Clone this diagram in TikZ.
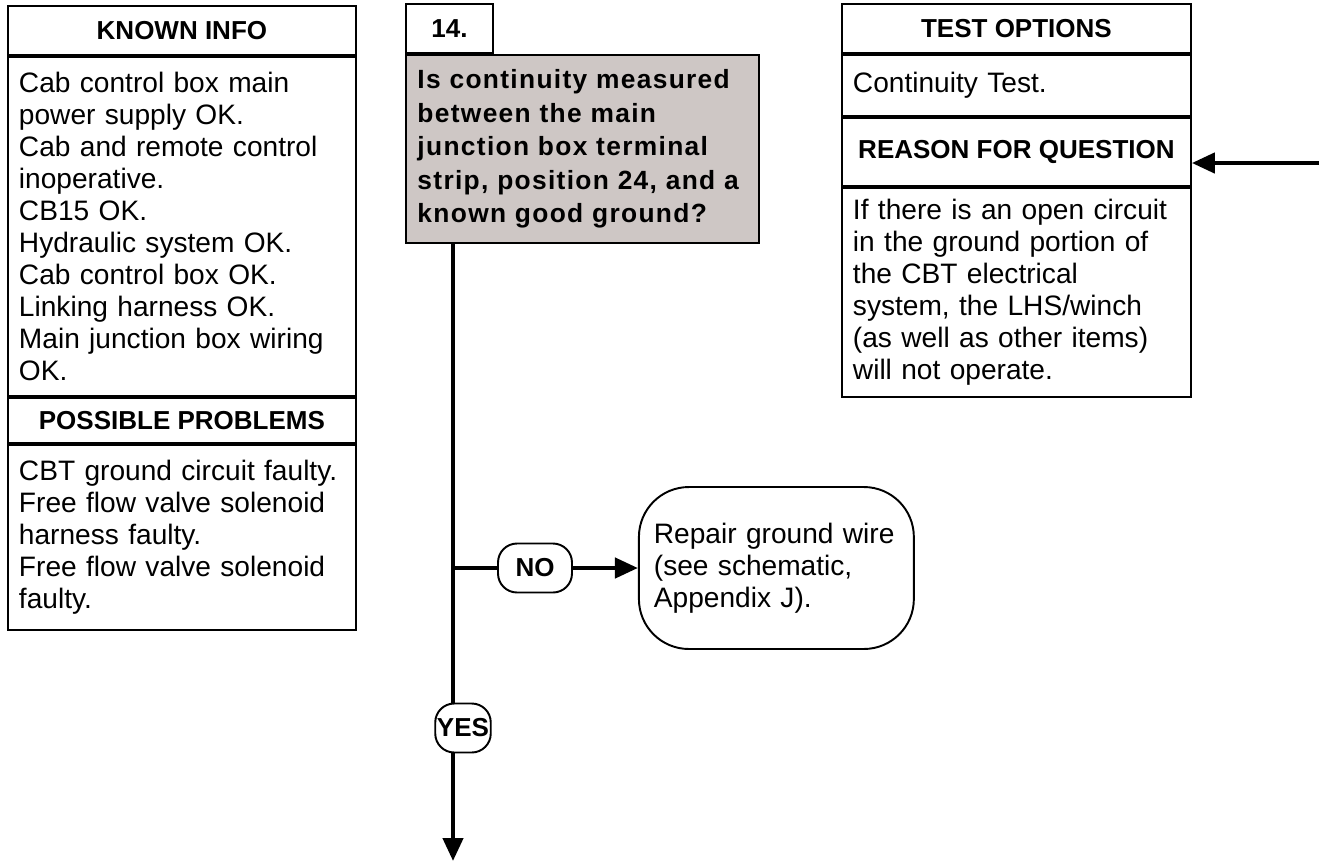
\documentclass[tikz,border=0pt]{standalone}
\usepackage{fontspec}
\setmainfont{Liberation Sans}
\newfontfamily\questionfont[LetterSpace=5]{Liberation Sans}
\usetikzlibrary{arrows.meta, positioning}
\definecolor{questiongray}{RGB}{206,199,197}
\tikzset{
    chart/.style={font=\fontsize{16}{18.2}\selectfont},
    chart head/.style={draw, line width=1.1pt, inner sep=0pt,
        font=\fontsize{14.8}{17}\selectfont\bfseries,
        minimum width=6.96cm, minimum height=0.98cm},
    chart body/.style={draw, line width=1.1pt, align=left,
        text width=6.52cm, inner xsep=0.22cm, inner ysep=0pt},
    chart question/.style={draw, line width=1.1pt, fill=questiongray, align=left,
        text width=6.6cm, inner xsep=0.23cm, inner ysep=0pt, minimum height=3.76cm,
        font=\questionfont\fontsize{15}{19}\selectfont\bfseries},
    chart result/.style={draw, line width=1.1pt, rounded corners=1cm, align=left,
        text width=4.9cm, inner xsep=0.3cm, minimum height=3.24cm},
    chart answer/.style={draw, line width=1.1pt, fill=white, rounded corners=0.38cm,
        inner xsep=1pt, minimum height=0.98cm,
        font=\fontsize{14.8}{17}\selectfont\bfseries},
    chart line/.style={line width=2.5pt},
    chart arrow/.style={line width=2.5pt, -{Triangle[length=0.46cm, width=0.4cm]}},
}

\begin{document}
\begin{tikzpicture}[chart, x=0.02cm, y=-0.02cm]
    \useasboundingbox (0,0) rectangle (1319,863);

    % Left column
    \node[chart head, anchor=north west] (knownhead) at (7,5) {KNOWN INFO};
    \node[chart body, minimum height=6.78cm, below=0pt of knownhead] (knownbody) {Cab control box main\\
        power supply OK.\\
        Cab and remote control\\
        inoperative.\\
        CB15 OK.\\
        Hydraulic system OK.\\
        Cab control box OK.\\
        Linking harness OK.\\
        Main junction box wiring\\
        OK.};
    \node[chart head, minimum height=0.9cm, below=0pt of knownbody] (probhead) {POSSIBLE PROBLEMS};
    \node[chart body, minimum height=3.7cm, below=0pt of probhead] (probbody) {CBT ground circuit faulty.\\
        Free flow valve solenoid\\
        harness faulty.\\
        Free flow valve solenoid\\
        faulty.};

    % Question
    \node[chart question, anchor=north west] (quest) at (405,54) {Is continuity measured\\
        between the main\\
        junction box terminal\\
        strip, position 24, and a\\
        known good ground?};
    \node[chart head, minimum width=1.74cm, above right=0pt and 0pt of quest.north west] (stepno) {14.};

    % Right column
    \node[chart head, minimum width=6.98cm, anchor=north west] (testhead) at (841,3) {TEST OPTIONS};
    \node[chart body, text width=6.54cm, minimum height=1.22cm, below=0pt of testhead] (testbody) {Continuity Test.};
    \node[chart head, minimum width=6.98cm, minimum height=1.36cm, below=0pt of testbody] (reasonhead) {REASON FOR QUESTION};
    \node[chart body, text width=6.54cm, minimum height=4.18cm, below=0pt of reasonhead] (reasonbody) {If there is an open circuit\\
        in the ground portion of\\
        the CBT electrical\\
        system, the LHS/winch\\
        (as well as other items)\\
        will not operate.};

    % Branches
    \coordinate (split) at (453,568);
    \coordinate (down) at (453,861);
    \coordinate (feed) at (1319,163);
    \node[chart answer, minimum width=1.48cm] (no) at (535,568) {NO};
    \node[chart result, right=1.3cm of no] (repair) {Repair ground wire\\
        (see schematic,\\
        Appendix J).};

    % Arrows
    \draw[chart arrow] (quest.south -| split) -- (down);
    \draw[chart line] (split) -- (no);
    \draw[chart arrow] (no) -- (repair);
    \draw[chart arrow] (feed) -- (feed -| reasonhead.east);
    \node[chart answer, minimum width=0.96cm] (yes) at (463,728) {YES};

\end{tikzpicture}
\end{document}
